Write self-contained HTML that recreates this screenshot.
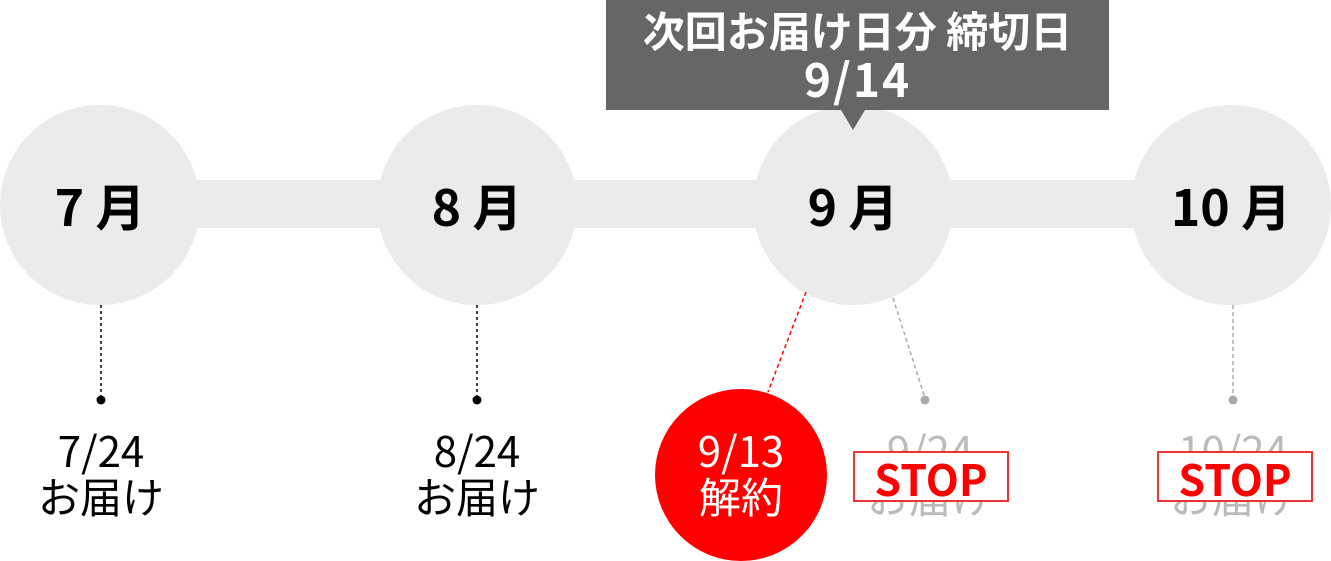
<!DOCTYPE html>
<html><head><meta charset="utf-8"><style>
body{margin:0;width:1331px;height:561px;overflow:hidden;background:#fff;font-family:"Noto Sans CJK JP",sans-serif;}
.a{position:absolute;}
.c{position:absolute;width:200px;height:200px;border-radius:50%;background:#ebebeb;top:105px;display:flex;align-items:center;justify-content:center;font-weight:bold;font-size:50px;color:#000;}
.t{position:absolute;width:240px;text-align:center;font-size:42px;line-height:46px;}
.stop{position:absolute;top:451px;width:152px;height:47px;border:2px solid #e33;background:#fff;color:#f00;font-weight:bold;font-size:43px;line-height:50px;text-align:center;overflow:hidden;}
</style></head><body>
<div class="a" style="left:100px;top:180px;width:1131px;height:48px;background:#ebebeb"></div>
<div class="c" style="left:0">7 月</div>
<div class="c" style="left:377px">8 月</div>
<div class="c" style="left:753px">9 月</div>
<div class="c" style="left:1131px">10 月</div>
<div class="a" style="left:606px;top:0;width:503px;height:110px;background:#666;color:#fff;font-weight:bold;text-align:center;font-size:42px;line-height:48px;padding-top:6px;box-sizing:border-box">次回お届け日分 締切日<br><span style="font-size:46px;letter-spacing:2px">9/14</span></div>
<div class="a" style="left:841px;top:110px;width:0;height:0;border-left:12px solid transparent;border-right:12px solid transparent;border-top:20px solid #666"></div>
<svg class="a" style="left:0;top:0" width="1331" height="561">
<line x1="101" y1="305" x2="101" y2="400" stroke="#000" stroke-width="1.5" stroke-dasharray="3,3"/>
<line x1="477" y1="305" x2="477" y2="400" stroke="#000" stroke-width="1.5" stroke-dasharray="3,3"/>
<line x1="806" y1="292" x2="768" y2="392" stroke="#f00" stroke-width="1.5" stroke-dasharray="4,3"/>
<line x1="893" y1="298" x2="925" y2="398" stroke="#aaa" stroke-width="1.5" stroke-dasharray="4,3"/>
<line x1="1233" y1="305" x2="1233" y2="398" stroke="#aaa" stroke-width="1.5" stroke-dasharray="4,3"/>
<circle cx="101" cy="400" r="4.5" fill="#000"/><circle cx="477" cy="400" r="4.5" fill="#000"/>
<circle cx="925" cy="400" r="4.5" fill="#aaa"/><circle cx="1233" cy="400" r="4.5" fill="#aaa"/>
<ellipse cx="741" cy="475" rx="86" ry="86" fill="#f00"/>
</svg>
<div class="t" style="left:-19px;top:427px">7/24<br>お届け</div>
<div class="t" style="left:357px;top:427px">8/24<br>お届け</div>
<div class="t" style="left:810px;top:427px;color:#bbb">9/24<br>お届け</div>
<div class="t" style="left:1113px;top:427px;color:#bbb">10/24<br>お届け</div>
<div class="t" style="left:621px;top:427px;color:#fff;font-size:42px;line-height:46px">9/13<br>解約</div>
<div class="stop" style="left:853px">STOP</div>
<div class="stop" style="left:1157px">STOP</div>
</body></html>
